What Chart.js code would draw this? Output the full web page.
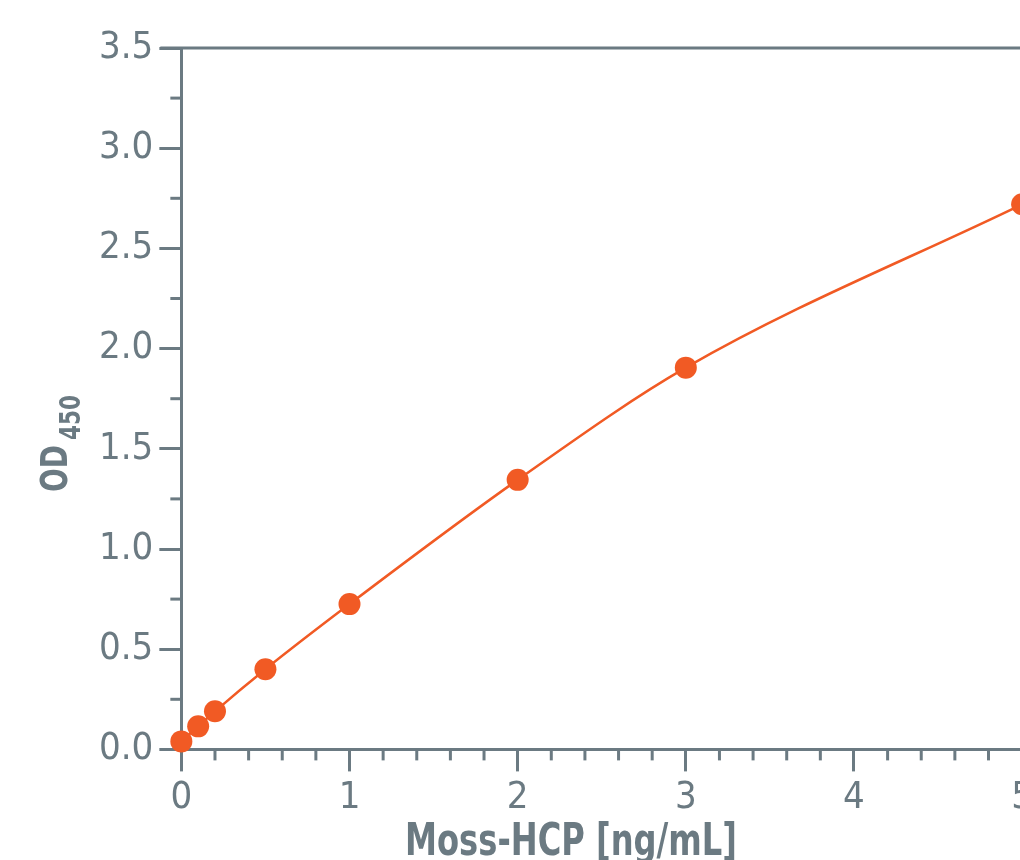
<!DOCTYPE html>
<html lang="en">
<head>
    <meta charset="UTF-8">
    <title>Moss-HCP standard curve</title>
    <style>
        body {
            margin: 0;
            padding: 0;
            overflow: hidden;
            background: #ffffff;
        }
        .chart-box {
            position: relative;
            width: 1037px;
            height: 860px;
        }
    </style>
    <script src="https://cdn.jsdelivr.net/npm/chart.js@4.4.1/dist/chart.umd.min.js"></script>
</head>
<body>
    <div class="chart-box">
        <canvas id="curveChart"></canvas>
    </div>

    <script>
        // 标准曲线数据 (concentration vs OD450)
        const concentrations = [0, 0.1, 0.2, 0.5, 1, 2, 3, 5];
        const odValues = [0.04, 0.115, 0.19, 0.40, 0.725, 1.345, 1.905, 2.72];

        const xTitle = 'Moss-HCP [ng/mL]';
        const yTitleMain = 'OD';
        const yTitleSub = '450';

        const axisGray = '#6b7a82';
        const orange = '#f15a24';
        const condensed = '"DejaVu Sans Condensed", "DejaVu Sans", sans-serif';
        const tickFont = { family: condensed, size: 38 };

        // 文字按目标宽度横向压缩（原图字体更窄）
        function fillNarrow(ctx, text, x, y, targetWidth) {
            const w = ctx.measureText(text).width;
            ctx.save();
            ctx.translate(x, y);
            ctx.scale(targetWidth / w, 1);
            ctx.fillText(text, 0, 0);
            ctx.restore();
        }

        // minor ticks + top border + axis titles
        const decorations = {
            id: 'decorations',
            afterDraw(chart) {
                const ctx = chart.ctx;
                const area = chart.chartArea;
                const xs = chart.scales.x;
                const ys = chart.scales.y;
                ctx.save();
                ctx.strokeStyle = axisGray;
                ctx.lineWidth = 3;

                // 顶部边线
                ctx.beginPath();
                ctx.moveTo(area.left - 21, area.top);
                ctx.lineTo(area.right + 20, area.top);
                ctx.stroke();

                // x 次刻度
                for (let i = 1; i < 25; i++) {
                    if (i % 5 === 0) continue;
                    const px = xs.getPixelForValue(i * 0.2);
                    ctx.beginPath();
                    ctx.moveTo(px, area.bottom);
                    ctx.lineTo(px, area.bottom + 11);
                    ctx.stroke();
                }
                // y 次刻度
                for (let i = 1; i < 14; i += 2) {
                    const py = ys.getPixelForValue(i * 0.25);
                    ctx.beginPath();
                    ctx.moveTo(area.left, py);
                    ctx.lineTo(area.left - 11, py);
                    ctx.stroke();
                }

                ctx.fillStyle = axisGray;
                ctx.textBaseline = 'alphabetic';

                // x 轴标题
                ctx.font = 'bold 45px ' + condensed;
                ctx.textAlign = 'center';
                fillNarrow(ctx, xTitle, 571, 855, 332);

                // y 轴标题 OD450
                ctx.translate(67, 492);
                ctx.rotate(-Math.PI / 2);
                ctx.textAlign = 'left';
                ctx.font = 'bold 37px ' + condensed;
                fillNarrow(ctx, yTitleMain, 0, 0, 47);
                ctx.font = 'bold 28px ' + condensed;
                fillNarrow(ctx, yTitleSub, 52, 13, 45);
                ctx.restore();
            }
        };

        new Chart(document.getElementById('curveChart').getContext('2d'), {
            type: 'line',
            data: {
                datasets: [{
                    label: 'OD450',
                    data: concentrations.map((c, i) => ({ x: c, y: odValues[i] })),
                    borderColor: orange,
                    backgroundColor: orange,
                    borderWidth: 2.5,
                    pointRadius: 11,
                    pointHoverRadius: 11,
                    pointBorderWidth: 0,
                    cubicInterpolationMode: 'monotone',
                    clip: false
                }]
            },
            options: {
                responsive: true,
                maintainAspectRatio: false,
                animation: false,
                layout: {
                    padding: { left: 93, top: 48, right: 0, bottom: 35 }
                },
                plugins: {
                    legend: { display: false },
                    tooltip: { enabled: false }
                },
                scales: {
                    x: {
                        type: 'linear',
                        min: 0,
                        max: 5,
                        border: { display: true, color: axisGray, width: 3 },
                        grid: {
                            display: true,
                            drawOnChartArea: false,
                            drawTicks: true,
                            tickLength: 22,
                            tickColor: axisGray,
                            tickWidth: 3
                        },
                        ticks: {
                            stepSize: 1,
                            color: axisGray,
                            font: tickFont,
                            padding: 4,
                            maxRotation: 0
                        }
                    },
                    y: {
                        min: 0,
                        max: 3.5,
                        border: { display: true, color: axisGray, width: 3 },
                        grid: {
                            display: true,
                            drawOnChartArea: false,
                            drawTicks: true,
                            tickLength: 22,
                            tickColor: axisGray,
                            tickWidth: 3
                        },
                        ticks: {
                            stepSize: 0.5,
                            color: axisGray,
                            font: tickFont,
                            padding: 6,
                            callback: v => v.toFixed(1)
                        }
                    }
                }
            },
            plugins: [decorations]
        });
    </script>
</body>
</html>
